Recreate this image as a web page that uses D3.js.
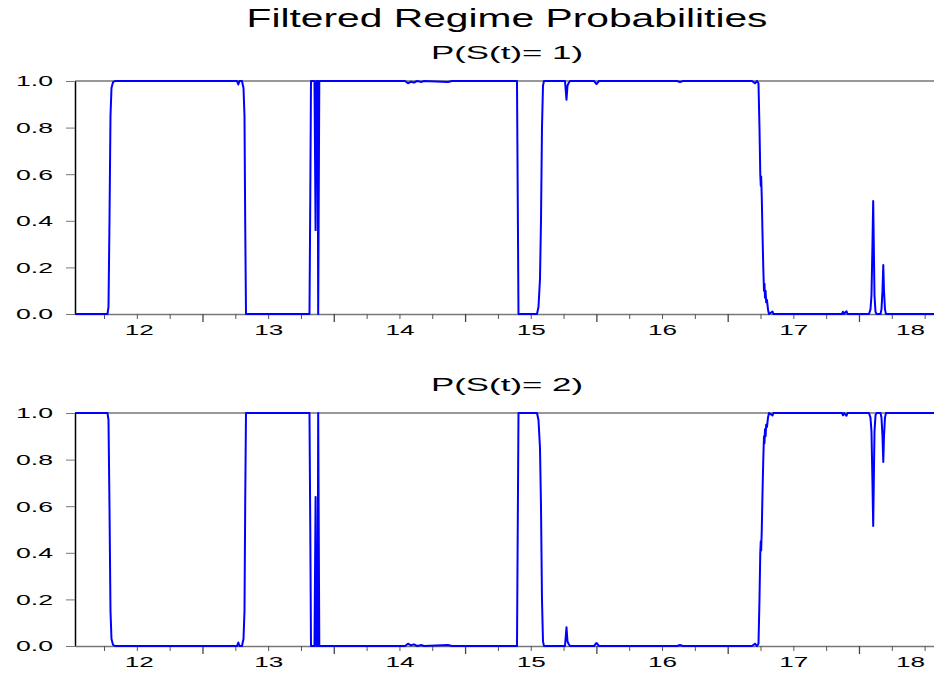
<!DOCTYPE html>
<html lang="en">
<head>
<meta charset="UTF-8">
<title>Filtered Regime Probabilities</title>
<script src="https://d3js.org/d3.v7.min.js"></script>
<style>
  body { margin: 0; background: #fff; }
  svg { display: block; background: #fff; }
</style>
</head>
<body>
<div class="canvas"></div>
<script>
  // time in decimal years, sampled where the filtered probabilities move
  const dates = [
    2012.029, 2012.2765, 2012.2841, 2012.2917, 2012.2993, 2012.3069, 2012.3184, 2012.3336,
    2013.2628, 2013.2727, 2013.2818, 2013.3008, 2013.3123, 2013.3199, 2013.3252, 2013.3313,
    2013.8149, 2013.8210, 2013.8264, 2013.8530, 2013.8614, 2013.8675, 2013.8766, 2013.8812, 2013.8896,
    2014.5423, 2014.5651, 2014.5880, 2014.6108, 2014.6337, 2014.6695, 2014.6870, 2014.8698, 2014.9002,
    2015.3953, 2015.4067, 2015.5476, 2015.5590, 2015.5705, 2015.5781, 2015.5857, 2015.5933, 2015.6009,
    2015.7609, 2015.7723, 2015.7799, 2015.7875, 2015.7989, 2015.9817, 2016.0008, 2016.0198,
    2016.6139, 2016.6367, 2016.6596, 2017.1851, 2017.2079, 2017.2232,
    2017.2346, 2017.2422, 2017.2483, 2017.2521, 2017.2551, 2017.2597, 2017.2650, 2017.2711,
    2017.2765, 2017.2803, 2017.2841, 2017.2887, 2017.2932, 2017.2993, 2017.3069, 2017.3145,
    2017.3412, 2017.3488, 2017.8705, 2017.8781, 2017.8858, 2017.9048, 2017.9124,
    2018.0762, 2018.0876, 2018.0952, 2018.1028, 2018.1082, 2018.1127, 2018.1181, 2018.1257, 2018.1333,
    2018.1639, 2018.1714, 2018.1790, 2018.1851, 2018.1904, 2018.1980, 2018.2056, 2018.777
  ]
  // P(S(t)= 1)
  const p1 = [
    0, 0, 0.03, 0.40, 0.85, 0.97, 0.995, 1,
    1, 0.985, 1, 1, 0.97, 0.85, 0.40, 0,
    0, 0.5, 1, 1, 0.36, 1, 1, 0, 1,
    1, 0.99, 0.997, 0.993, 1, 0.996, 1, 0.996, 1,
    1, 0, 0, 0.03, 0.15, 0.40, 0.80, 0.98, 1,
    1, 0.92, 0.98, 0.99, 1, 1, 0.987, 1,
    1, 0.996, 1, 1, 0.99, 1,
    0.99, 0.80, 0.60, 0.55, 0.59, 0.50, 0.35, 0.20,
    0.10, 0.13, 0.07, 0.10, 0.05, 0.06, 0.02, 0,
    0.01, 0, 0, 0.01, 0, 0.012, 0,
    0, 0.02, 0.08, 0.30, 0.485, 0.30, 0.08, 0.01, 0,
    0, 0.02, 0.10, 0.21, 0.10, 0.02, 0, 0
  ]
  // P(S(t)= 2)
  const p2 = [
    1, 1, 0.97, 0.60, 0.15, 0.03, 0.005, 0,
    0, 0.015, 0, 0, 0.03, 0.15, 0.60, 1,
    1, 0.5, 0, 0, 0.64, 0, 0, 1, 0,
    0, 0.01, 0.003, 0.007, 0, 0.004, 0, 0.004, 0,
    0, 1, 1, 0.97, 0.85, 0.60, 0.20, 0.02, 0,
    0, 0.08, 0.02, 0.01, 0, 0, 0.013, 0,
    0, 0.004, 0, 0, 0.01, 0,
    0.01, 0.20, 0.40, 0.45, 0.41, 0.50, 0.65, 0.80,
    0.90, 0.87, 0.93, 0.90, 0.95, 0.94, 0.98, 1,
    0.99, 1, 1, 0.99, 1, 0.988, 1,
    1, 0.98, 0.92, 0.70, 0.515, 0.70, 0.92, 0.99, 1,
    1, 0.98, 0.90, 0.79, 0.90, 0.98, 1, 1
  ]
  const yTicks = [0, 0.2, 0.4, 0.6, 0.8, 1.0]
  const years = [2012, 2013, 2014, 2015, 2016, 2017, 2018]

  const font = '"Liberation Sans", Arial, sans-serif'
  const svg = d3.select('.canvas')
    .append('svg')
    .attr('width', 934)
    .attr('height', 675)

  const x = d3.scaleLinear()
    .domain([dates[0], dates[dates.length - 1]])
    .range([75, 961])

  // the original graph is stretched sideways, so text gets a fixed length
  svg.append('text')
    .attr('x', 507)
    .attr('y', 27)
    .attr('text-anchor', 'middle')
    .attr('font-family', font)
    .attr('font-size', 25)
    .attr('textLength', 521)
    .attr('lengthAdjust', 'spacingAndGlyphs')
    .text('Filtered Regime Probabilities')

  const quarters = d3.range(years[0] + 0.25, years[years.length - 1] + 1, 0.25)
    .filter(d => d % 1 !== 0)
  const d0 = x.domain()[0], d1 = x.domain()[1]
  const mids = years.map(y => (Math.max(y, d0) + Math.min(y + 1, d1)) / 2)

  function panel(values, top, bottom, title) {
    const y = d3.scaleLinear().domain([0, 1]).range([bottom, top])
    const g = svg.append('g')

    g.append('text')
      .attr('x', 507)
      .attr('y', top - 22)
      .attr('text-anchor', 'middle')
      .attr('font-family', font)
      .attr('font-size', 19)
      .attr('textLength', 152)
      .attr('lengthAdjust', 'spacingAndGlyphs')
      .text(title)

    // top frame line
    g.append('line')
      .attr('x1', x.range()[0]).attr('x2', x.range()[1])
      .attr('y1', top).attr('y2', top)
      .attr('stroke', '#333')
      .attr('stroke-width', 1.2)

    const yAxis = g.append('g')
      .attr('transform', `translate(${x.range()[0]},0)`)
      .call(d3.axisLeft(y).tickValues(yTicks).tickFormat(d3.format('.1f'))
        .tickSizeInner(9).tickSizeOuter(0).tickPadding(13))
    yAxis.select('.domain').attr('stroke', '#000').attr('stroke-width', 1.5)
    yAxis.selectAll('.tick line').attr('stroke', '#777')
    yAxis.selectAll('.tick text')
      .attr('font-family', font)
      .attr('font-size', 15)
      .attr('fill', '#000')
      .attr('textLength', 37)
      .attr('lengthAdjust', 'spacingAndGlyphs')

    const minor = g.append('g')
      .attr('transform', `translate(0,${bottom})`)
      .call(d3.axisBottom(x).tickValues(quarters).tickFormat('').tickSizeInner(5).tickSizeOuter(0))
    minor.select('.domain').attr('stroke', '#777').attr('stroke-width', 1.5)
    minor.selectAll('.tick line').attr('stroke', '#555')

    const major = g.append('g')
      .attr('transform', `translate(0,${bottom})`)
      .call(d3.axisBottom(x).tickValues(years.slice(1)).tickFormat('').tickSizeInner(8).tickSizeOuter(0))
    major.select('.domain').remove()
    major.selectAll('.tick line').attr('stroke', '#444').attr('stroke-width', 1.3)

    const labels = g.append('g')
      .attr('transform', `translate(0,${bottom})`)
      .call(d3.axisBottom(x).tickValues(mids).tickFormat(d => String(Math.floor(d)).slice(2))
        .tickSize(0).tickPadding(10))
    labels.select('.domain').remove()
    labels.selectAll('.tick text')
      .attr('font-family', font)
      .attr('font-size', 15)
      .attr('fill', '#000')
      .attr('textLength', 29)
      .attr('lengthAdjust', 'spacingAndGlyphs')

    const line = d3.line()
      .x((d, i) => x(dates[i]))
      .y(d => y(d))

    g.append('path')
      .datum(values)
      .attr('fill', 'none')
      .attr('stroke', '#0000ff')
      .attr('stroke-width', 2)
      .attr('stroke-linejoin', 'round')
      .attr('d', line)
  }

  panel(p1, 81, 314, 'P(S(t)= 1)')
  panel(p2, 413, 646, 'P(S(t)= 2)')
</script>
</body>
</html>
